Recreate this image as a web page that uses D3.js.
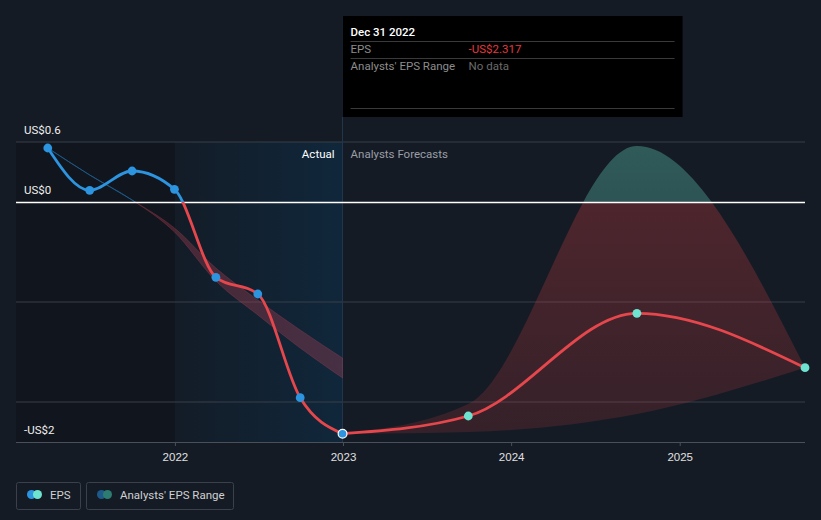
<!DOCTYPE html>
<html>
<head>
<meta charset="utf-8">
<script src="https://cdn.jsdelivr.net/npm/d3@7"></script>
<style>
  html, body { margin: 0; padding: 0; background: #151b25; }
  svg { display: block; font-family: Roboto, "Noto Sans", sans-serif; }
</style>
</head>
<body>
<svg id="chart" width="821" height="520"></svg>
<script>
// ---------- data ----------
const actualDates = ["2021-03-31", "2021-06-30", "2021-09-30", "2021-12-31", "2022-03-31", "2022-06-30", "2022-09-30", "2022-12-31"];
const actualEPS = [0.54, 0.117, 0.31, 0.127, -0.753, -0.92, -1.957, -2.317];

const forecastDates = ["2022-12-31", "2023-09-30", "2024-09-30", "2025-09-30"];
const forecastEPS = [-2.317, -2.14, -1.113, -1.657];
const forecastLow = [-2.317, -2.30, -2.12, -1.657];
const forecastHigh = [-2.317, -2.02, 0.56, -1.657];

const pastEstDates = ["2021-03-31", "2021-06-30", "2021-09-30", "2021-12-31", "2022-03-31", "2022-06-30", "2022-09-30", "2022-12-31"];
const pastEstLow = [0.54, 0.27, 0.02, -0.30, -0.79, -1.13, -1.46, -1.76];
const pastEstHigh = [0.54, 0.27, 0.02, -0.26, -0.66, -0.98, -1.28, -1.56];

const yTickValues = [0.6, 0, -2.4];
const yTickLabels = ["US$0.6", "US$0", "-US$2"];
const gridValues = [0.6, -1, -2];
const xTickDates = ["2022-01-01", "2023-01-01", "2024-01-01", "2025-01-01"];
const xTickLabels = ["2022", "2023", "2024", "2025"];

const tooltipTitle = "Dec 31 2022";
const tooltipRows = [["EPS", "-US$2.317"], ["Analysts' EPS Range", "No data"]];
const legendItems = ["EPS", "Analysts' EPS Range"];

// ---------- setup ----------
const parse = d3.timeParse("%Y-%m-%d");
const svg = d3.select("#chart");
const W = 821, H = 520;
const pLeft = 16, pRight = 805, pTop = 142, pBottom = 442;

const x = d3.scaleTime().domain([parse("2021-01-21"), parse("2025-09-30")]).range([pLeft, pRight]);
const y = d3.scaleLinear().domain([-2.4, 0.6]).range([pBottom, pTop]);
const y0 = y(0);

const BLUE = "#2d94df", RED = "#e5474c", TEAL = "#6ee3cf";

const defs = svg.append("defs");
defs.append("clipPath").attr("id", "above").append("rect").attr("x", 0).attr("y", 0).attr("width", W).attr("height", y0);
defs.append("clipPath").attr("id", "below").append("rect").attr("x", 0).attr("y", y0).attr("width", W).attr("height", H - y0);

const actGrad = defs.append("linearGradient").attr("id", "actGrad").attr("x1", 0).attr("x2", 1).attr("y1", 0).attr("y2", 0);
actGrad.append("stop").attr("offset", 0).attr("stop-color", "#131c27");
actGrad.append("stop").attr("offset", 1).attr("stop-color", "#10273b");

const redGrad = defs.append("linearGradient").attr("id", "redGrad").attr("gradientUnits", "userSpaceOnUse")
  .attr("x1", 0).attr("x2", 0).attr("y1", y0).attr("y2", pBottom);
redGrad.append("stop").attr("offset", 0).attr("stop-color", "#e64141").attr("stop-opacity", 0.27);
redGrad.append("stop").attr("offset", 1).attr("stop-color", "#e64141").attr("stop-opacity", 0.15);

const tealGrad = defs.append("linearGradient").attr("id", "tealGrad").attr("gradientUnits", "userSpaceOnUse")
  .attr("x1", 0).attr("x2", 0).attr("y1", pTop).attr("y2", y0);
tealGrad.append("stop").attr("offset", 0).attr("stop-color", "#2f5b59");
tealGrad.append("stop").attr("offset", 1).attr("stop-color", "#2e5455");

// ---------- background regions ----------
const d2022 = parse("2022-01-01"), dLast = parse(actualDates[actualDates.length - 1]);
svg.append("rect").attr("x", pLeft).attr("y", pTop).attr("width", x(d2022) - pLeft).attr("height", pBottom - pTop).attr("fill", "#11151d");
svg.append("rect").attr("x", x(d2022)).attr("y", pTop).attr("width", x(dLast) - x(d2022)).attr("height", pBottom - pTop).attr("fill", "url(#actGrad)");

// gridlines
svg.selectAll(".grid").data(gridValues).join("line")
  .attr("x1", pLeft).attr("x2", pRight).attr("y1", d => y(d)).attr("y2", d => y(d))
  .attr("stroke", "#383e48").attr("stroke-width", 1);

// x axis
const xAxis = d3.axisBottom(x).tickValues(xTickDates.map(parse)).tickSize(4).tickFormat((d, i) => xTickLabels[i]);
const gx = svg.append("g").attr("transform", `translate(0,${pBottom})`).call(xAxis);
gx.select(".domain").attr("stroke", "#4a505a").attr("d", `M${pLeft},0.5H${pRight}`);
gx.selectAll(".tick line").attr("stroke", "#4a505a");
gx.selectAll(".tick text").attr("fill", "#e0e0e0").attr("font-size", 11.5).attr("dy", "1.05em");

// y labels
svg.selectAll(".ylab").data(yTickValues).join("text")
  .attr("x", 24).attr("y", d => y(d) - 8)
  .attr("fill", "#f0f0f0").attr("font-size", 11.5)
  .text((d, i) => yTickLabels[i]);

// vertical tooltip line
svg.append("line").attr("x1", x(dLast)).attr("x2", x(dLast)).attr("y1", 16).attr("y2", pBottom)
  .attr("stroke", "#22384c").attr("stroke-width", 1);

// ---------- past estimates band ----------
const pastData = pastEstDates.map((d, i) => ({ date: parse(d), lo: pastEstLow[i], hi: pastEstHigh[i] }));
const pastArea = d3.area().curve(d3.curveMonotoneX).x(d => x(d.date)).y0(d => y(d.lo)).y1(d => y(d.hi));
svg.append("path").datum(pastData).attr("d", pastArea).attr("clip-path", "url(#above)")
  .attr("fill", "#1d5a8a").attr("stroke", "#1d5a8a").attr("stroke-width", 0.8);
svg.append("path").datum(pastData).attr("d", pastArea).attr("clip-path", "url(#below)")
  .attr("fill", "rgba(200,70,90,0.3)").attr("stroke", "rgba(200,70,90,0.3)").attr("stroke-width", 0.8);

// ---------- forecast range ----------
const fData = forecastDates.map((d, i) => ({ date: parse(d), v: forecastEPS[i], lo: forecastLow[i], hi: forecastHigh[i] }));
const fArea = d3.area().curve(d3.curveMonotoneX).x(d => x(d.date)).y0(d => y(d.lo)).y1(d => y(d.hi));
svg.append("path").datum(fData).attr("d", fArea).attr("clip-path", "url(#above)").attr("fill", "url(#tealGrad)");
svg.append("path").datum(fData).attr("d", fArea).attr("clip-path", "url(#below)").attr("fill", "url(#redGrad)");

// zero line on top of areas
svg.append("line").attr("x1", pLeft).attr("x2", pRight).attr("y1", y0 + 0.5).attr("y2", y0 + 0.5)
  .attr("stroke", "#ffffff").attr("stroke-width", 1.5);

// ---------- lines ----------
const aData = actualDates.map((d, i) => ({ date: parse(d), v: actualEPS[i] }));
const line = d3.line().curve(d3.curveMonotoneX).x(d => x(d.date)).y(d => y(d.v));
svg.append("path").datum(aData).attr("d", line).attr("clip-path", "url(#above)")
  .attr("fill", "none").attr("stroke", BLUE).attr("stroke-width", 2.8);
svg.append("path").datum(aData).attr("d", line).attr("clip-path", "url(#below)")
  .attr("fill", "none").attr("stroke", RED).attr("stroke-width", 2.8);
svg.append("path").datum(fData).attr("d", line)
  .attr("fill", "none").attr("stroke", RED).attr("stroke-width", 2.8);

// points
svg.selectAll(".apt").data(aData.slice(0, -1)).join("circle")
  .attr("cx", d => x(d.date)).attr("cy", d => y(d.v)).attr("r", 4.4).attr("fill", BLUE);
svg.selectAll(".fpt").data(fData.slice(1)).join("circle")
  .attr("cx", d => x(d.date)).attr("cy", d => y(d.v)).attr("r", 4.4).attr("fill", TEAL);
const lastPt = aData[aData.length - 1];
svg.append("circle").attr("cx", x(lastPt.date)).attr("cy", y(lastPt.v)).attr("r", 4.4)
  .attr("fill", BLUE).attr("stroke", "#ffffff").attr("stroke-width", 1.2);

// labels
svg.append("text").attr("x", x(dLast) - 8).attr("y", 158).attr("text-anchor", "end")
  .attr("fill", "#ffffff").attr("font-size", 11.5).text("Actual");
svg.append("text").attr("x", x(dLast) + 8).attr("y", 158)
  .attr("fill", "#9a9ea5").attr("font-size", 11.5).text("Analysts Forecasts");

// ---------- tooltip ----------
const tx = x(dLast);
svg.append("rect").attr("x", tx).attr("y", 16).attr("width", 340).attr("height", 101).attr("fill", "#000000");
svg.append("text").attr("x", tx + 8).attr("y", 35.5).attr("fill", "#ffffff").attr("font-size", 11.5).attr("font-weight", 500).text(tooltipTitle);
[41.5, 58.5, 108.5].forEach(yy => {
  svg.append("line").attr("x1", tx + 8).attr("x2", tx + 332).attr("y1", yy).attr("y2", yy).attr("stroke", "#3a3a3a");
});
tooltipRows.forEach((r, i) => {
  const by = 53 + i * 17;
  svg.append("text").attr("x", tx + 8).attr("y", by).attr("fill", "#8c8c8c").attr("font-size", 11.5).text(r[0]);
  svg.append("text").attr("x", tx + 126).attr("y", by).attr("fill", i === 0 ? "#e5393f" : "#6b6b6b").attr("font-size", 11.5).text(r[1]);
});

// ---------- legend ----------
const lg = svg.append("g");
const legendBoxes = [{ x: 16.5, w: 64, c1: BLUE, c2: TEAL }, { x: 86.5, w: 147, c1: "#1d5a8a", c2: "#2d7c72" }];
legendItems.forEach((t, i) => {
  const b = legendBoxes[i];
  lg.append("rect").attr("x", b.x).attr("y", 482.5).attr("width", b.w).attr("height", 27).attr("rx", 2)
    .attr("fill", "none").attr("stroke", "#3b414b");
  lg.append("circle").attr("cx", b.x + 15).attr("cy", 494.5).attr("r", 4.5).attr("fill", b.c1);
  lg.append("circle").attr("cx", b.x + 21).attr("cy", 494.5).attr("r", 4.5).attr("fill", b.c2);
  lg.append("text").attr("x", b.x + 33.5).attr("y", 498.5).attr("fill", "#d0d0d0").attr("font-size", 11.5).text(t);
});
</script>
</body>
</html>
